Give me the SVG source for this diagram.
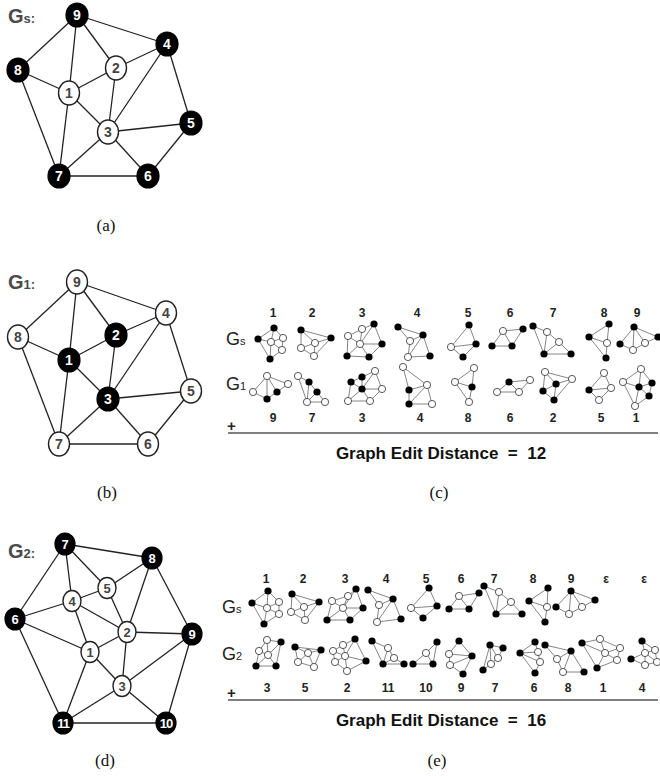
<svg xmlns="http://www.w3.org/2000/svg" width="660" height="777" viewBox="0 0 660 777">
<style>
  .edges line { stroke: #222; stroke-width: 1.3; }
  .blk ellipse { fill: #000; stroke: #000; stroke-width: 1.2; }
  .wht ellipse { fill: #fff; stroke: #222; stroke-width: 1.4; }
  .blk text, .wht text { font-family: "Liberation Sans", Arial, sans-serif; font-weight: bold; font-size: 14px; text-anchor: middle; }
  .blk text { fill: #fff; }
  .wht text { fill: #444; }
  .small text { font-size: 13px; }
  .tag { font-family: "Liberation Sans", Arial, sans-serif; font-weight: bold; fill: #4a4a4a; }
  .cap { font-family: "Liberation Serif", "Times New Roman", serif; font-size: 17px; fill: #111; text-anchor: middle; }
  .num { font-family: "Liberation Sans", Arial, sans-serif; font-weight: bold; font-size: 12px; fill: #222; text-anchor: middle; }
  .row { font-family: "Liberation Sans", Arial, sans-serif; fill: #222; }
  .ged { font-family: "Liberation Sans", Arial, sans-serif; font-weight: bold; font-size: 17px; fill: #111; text-anchor: middle; }
  .rule { stroke: #555; stroke-width: 1.5; }
  .m { stroke: #666; stroke-width: 0.8; fill: none; }
  .mb { fill: #000; }
  .mw { fill: #fff; stroke: #444; stroke-width: 0.9; }
</style>

<!-- ===== (a) graph Gs ===== -->
<g id="graph-a">
  <text class="tag" x="8" y="23" font-size="20">G<tspan font-size="13">s:</tspan></text>
  <g class="edges" id="a-edges">
    <line x1="77" y1="15" x2="18" y2="70"/>
    <line x1="77" y1="15" x2="69" y2="93"/>
    <line x1="77" y1="15" x2="116" y2="68"/>
    <line x1="77" y1="15" x2="167" y2="44"/>
    <line x1="18" y1="70" x2="69" y2="93"/>
    <line x1="18" y1="70" x2="59" y2="176"/>
    <line x1="69" y1="93" x2="116" y2="68"/>
    <line x1="69" y1="93" x2="59" y2="176"/>
    <line x1="69" y1="93" x2="108" y2="132"/>
    <line x1="116" y1="68" x2="167" y2="44"/>
    <line x1="116" y1="68" x2="108" y2="132"/>
    <line x1="167" y1="44" x2="108" y2="132"/>
    <line x1="167" y1="44" x2="191" y2="123"/>
    <line x1="108" y1="132" x2="191" y2="123"/>
    <line x1="108" y1="132" x2="148" y2="176"/>
    <line x1="108" y1="132" x2="59" y2="176"/>
    <line x1="191" y1="123" x2="148" y2="176"/>
    <line x1="59" y1="176" x2="148" y2="176"/>
  </g>
  <g id="a-n9" class="blk"><ellipse cx="77" cy="15" rx="11" ry="12"/><text x="77" y="20">9</text></g>
  <g id="a-n4" class="blk"><ellipse cx="167" cy="44" rx="11" ry="12"/><text x="167" y="49">4</text></g>
  <g id="a-n8" class="blk"><ellipse cx="18" cy="70" rx="11" ry="12"/><text x="18" y="75">8</text></g>
  <g id="a-n2" class="wht"><ellipse cx="116" cy="68" rx="10.5" ry="12"/><text x="116" y="73">2</text></g>
  <g id="a-n1" class="wht"><ellipse cx="69" cy="93" rx="10.5" ry="12"/><text x="69" y="98">1</text></g>
  <g id="a-n3" class="wht"><ellipse cx="108" cy="132" rx="10.5" ry="12"/><text x="108" y="137">3</text></g>
  <g id="a-n5" class="blk"><ellipse cx="191" cy="123" rx="11" ry="12"/><text x="191" y="128">5</text></g>
  <g id="a-n7" class="blk"><ellipse cx="59" cy="176" rx="11" ry="12"/><text x="59" y="181">7</text></g>
  <g id="a-n6" class="blk"><ellipse cx="148" cy="176" rx="11" ry="12"/><text x="148" y="181">6</text></g>
  <text class="cap" x="106" y="231">(a)</text>
</g>

<!-- ===== (b) graph G1 ===== -->
<g id="graph-b">
  <text class="tag" x="8" y="289" font-size="20">G<tspan font-size="13">1:</tspan></text>
  <g class="edges" id="b-edges">
    <line x1="77" y1="282" x2="18" y2="337"/>
    <line x1="77" y1="282" x2="69" y2="360"/>
    <line x1="77" y1="282" x2="116" y2="335"/>
    <line x1="77" y1="282" x2="166" y2="313"/>
    <line x1="18" y1="337" x2="69" y2="360"/>
    <line x1="18" y1="337" x2="59" y2="444"/>
    <line x1="69" y1="360" x2="116" y2="335"/>
    <line x1="69" y1="360" x2="59" y2="444"/>
    <line x1="69" y1="360" x2="108" y2="399"/>
    <line x1="116" y1="335" x2="166" y2="313"/>
    <line x1="116" y1="335" x2="108" y2="399"/>
    <line x1="166" y1="313" x2="108" y2="399"/>
    <line x1="166" y1="313" x2="191" y2="391"/>
    <line x1="108" y1="399" x2="191" y2="391"/>
    <line x1="108" y1="399" x2="148" y2="444"/>
    <line x1="108" y1="399" x2="59" y2="444"/>
    <line x1="191" y1="391" x2="148" y2="444"/>
    <line x1="59" y1="444" x2="148" y2="444"/>
  </g>
  <g id="b-n9" class="wht"><ellipse cx="77" cy="282" rx="10.5" ry="12"/><text x="77" y="287">9</text></g>
  <g id="b-n4" class="wht"><ellipse cx="166" cy="313" rx="10.5" ry="12"/><text x="166" y="318">4</text></g>
  <g id="b-n8" class="wht"><ellipse cx="18" cy="337" rx="10.5" ry="12"/><text x="18" y="342">8</text></g>
  <g id="b-n2" class="blk"><ellipse cx="116" cy="335" rx="11" ry="12"/><text x="116" y="340">2</text></g>
  <g id="b-n1" class="blk"><ellipse cx="69" cy="360" rx="11" ry="12"/><text x="69" y="365">1</text></g>
  <g id="b-n3" class="blk"><ellipse cx="108" cy="399" rx="11" ry="12"/><text x="108" y="404">3</text></g>
  <g id="b-n5" class="wht"><ellipse cx="191" cy="391" rx="10.5" ry="12"/><text x="191" y="396">5</text></g>
  <g id="b-n7" class="wht"><ellipse cx="59" cy="444" rx="10.5" ry="12"/><text x="59" y="449">7</text></g>
  <g id="b-n6" class="wht"><ellipse cx="148" cy="444" rx="10.5" ry="12"/><text x="148" y="449">6</text></g>
  <text class="cap" x="107" y="498">(b)</text>
</g>

<!-- ===== (d) graph G2 ===== -->
<g id="graph-d">
  <text class="tag" x="8" y="558" font-size="20">G<tspan font-size="13">2:</tspan></text>
  <g class="edges" id="d-edges">
    <line x1="65" y1="544" x2="152" y2="558"/>
    <line x1="65" y1="544" x2="15" y2="619"/>
    <line x1="65" y1="544" x2="72" y2="601"/>
    <line x1="65" y1="544" x2="107" y2="588"/>
    <line x1="152" y1="558" x2="107" y2="588"/>
    <line x1="152" y1="558" x2="127" y2="632"/>
    <line x1="152" y1="558" x2="192" y2="634"/>
    <line x1="107" y1="588" x2="72" y2="601"/>
    <line x1="107" y1="588" x2="127" y2="632"/>
    <line x1="72" y1="601" x2="15" y2="619"/>
    <line x1="72" y1="601" x2="127" y2="632"/>
    <line x1="72" y1="601" x2="90" y2="652"/>
    <line x1="15" y1="619" x2="90" y2="652"/>
    <line x1="15" y1="619" x2="63" y2="723"/>
    <line x1="127" y1="632" x2="192" y2="634"/>
    <line x1="127" y1="632" x2="90" y2="652"/>
    <line x1="127" y1="632" x2="122" y2="686"/>
    <line x1="90" y1="652" x2="122" y2="686"/>
    <line x1="90" y1="652" x2="63" y2="723"/>
    <line x1="192" y1="634" x2="122" y2="686"/>
    <line x1="192" y1="634" x2="166" y2="723"/>
    <line x1="122" y1="686" x2="63" y2="723"/>
    <line x1="122" y1="686" x2="166" y2="723"/>
    <line x1="63" y1="723" x2="166" y2="723"/>
  </g>
  <g class="small">
    <g id="d-n7" class="blk"><ellipse cx="65" cy="544" rx="10" ry="11"/><text x="65" y="549">7</text></g>
    <g id="d-n8" class="blk"><ellipse cx="152" cy="558" rx="10" ry="11"/><text x="152" y="563">8</text></g>
    <g id="d-n5" class="wht"><ellipse cx="107" cy="588" rx="9" ry="10.5"/><text x="107" y="593">5</text></g>
    <g id="d-n4" class="wht"><ellipse cx="72" cy="601" rx="9" ry="10.5"/><text x="72" y="606">4</text></g>
    <g id="d-n6" class="blk"><ellipse cx="15" cy="619" rx="10" ry="11"/><text x="15" y="624">6</text></g>
    <g id="d-n2" class="wht"><ellipse cx="127" cy="632" rx="9" ry="10.5"/><text x="127" y="637">2</text></g>
    <g id="d-n9" class="blk"><ellipse cx="192" cy="634" rx="10" ry="11"/><text x="192" y="639">9</text></g>
    <g id="d-n1" class="wht"><ellipse cx="90" cy="652" rx="9" ry="10.5"/><text x="90" y="657">1</text></g>
    <g id="d-n3" class="wht"><ellipse cx="122" cy="686" rx="9" ry="10.5"/><text x="122" y="691">3</text></g>
    <g id="d-n11" class="blk"><ellipse cx="63" cy="723" rx="10" ry="11"/><text x="63" y="728" letter-spacing="-1">11</text></g>
    <g id="d-n10" class="blk"><ellipse cx="166" cy="723" rx="10" ry="11"/><text x="166" y="728" letter-spacing="-1">10</text></g>
  </g>
  <text class="cap" x="105" y="766">(d)</text>
</g>

<!-- ===== (c) substructure matching Gs vs G1 ===== -->
<g id="panel-c">
  <text class="row" x="226" y="345" font-size="18">G<tspan font-size="11">s</tspan></text>
  <text class="row" x="226" y="390" font-size="18">G<tspan font-size="11">1</tspan></text>
  <g id="c-top-ids">
    <text class="num" x="273" y="317">1</text><text class="num" x="312" y="317">2</text>
    <text class="num" x="362" y="317">3</text><text class="num" x="417" y="317">4</text>
    <text class="num" x="468" y="317">5</text><text class="num" x="510" y="317">6</text>
    <text class="num" x="553" y="317">7</text><text class="num" x="604" y="317">8</text>
    <text class="num" x="637" y="317">9</text>
  </g>
  <g id="c-bottom-ids">
    <text class="num" x="273" y="422">9</text><text class="num" x="312" y="422">7</text>
    <text class="num" x="362" y="422">3</text><text class="num" x="420" y="422">4</text>
    <text class="num" x="468" y="422">8</text><text class="num" x="510" y="422">6</text>
    <text class="num" x="553" y="422">2</text><text class="num" x="601" y="422">5</text>
    <text class="num" x="636" y="422">1</text>
  </g>

  <g id="c-s1"><path class="m" d="M274 328L258 339M274 328L271 342M274 328L283 338M258 339L271 342M258 339L270 359M271 342L283 338M271 342L270 359M271 342L282 350M283 338L282 350M282 350L270 359"/>
    <circle class="mb" cx="274" cy="328" r="3.6"/><circle class="mb" cx="258" cy="339" r="3.6"/><circle class="mw" cx="271" cy="342" r="3.6"/><circle class="mw" cx="283" cy="338" r="3.6"/><circle class="mw" cx="282" cy="350" r="3.6"/><circle class="mb" cx="270" cy="359" r="3.6"/></g>
  <g id="c-s2"><path class="m" d="M301 330L315 343M301 330L301 348M301 330L331 338M301 348L315 343M301 348L314 356M315 343L331 338M315 343L314 356M331 338L314 356"/>
    <circle class="mb" cx="301" cy="330" r="3.6"/><circle class="mb" cx="331" cy="338" r="3.6"/><circle class="mw" cx="315" cy="343" r="3.6"/><circle class="mw" cx="301" cy="348" r="3.6"/><circle class="mw" cx="314" cy="356" r="3.6"/></g>
  <g id="c-s3"><path class="m" d="M360 344L348 336M360 344L362 329M360 344L374 324M360 344L382 344M360 344L369 357M360 344L347 356M348 336L362 329M348 336L347 356M362 329L374 324M374 324L382 344M382 344L369 357M347 356L369 357"/>
    <circle class="mw" cx="360" cy="344" r="3.6"/><circle class="mw" cx="348" cy="336" r="3.6"/><circle class="mw" cx="362" cy="329" r="3.6"/><circle class="mb" cx="374" cy="324" r="3.6"/><circle class="mb" cx="382" cy="344" r="3.6"/><circle class="mb" cx="369" cy="357" r="3.6"/><circle class="mb" cx="347" cy="356" r="3.6"/></g>
  <g id="c-s4"><path class="m" d="M398 327L423 335M398 327L410 341M410 341L423 335M410 341L408 357M423 335L408 357M423 335L430 356M408 357L430 356"/>
    <circle class="mb" cx="398" cy="327" r="3.6"/><circle class="mb" cx="423" cy="335" r="3.6"/><circle class="mw" cx="410" cy="341" r="3.6"/><circle class="mw" cx="408" cy="357" r="3.6"/><circle class="mb" cx="430" cy="356" r="3.6"/></g>
  <g id="c-s5"><path class="m" d="M469 325L476 344M469 325L451 347M451 347L476 344M451 347L463 357M476 344L463 357"/>
    <circle class="mb" cx="469" cy="325" r="3.6"/><circle class="mw" cx="451" cy="347" r="3.6"/><circle class="mb" cx="476" cy="344" r="3.6"/><circle class="mb" cx="463" cy="357" r="3.6"/></g>
  <g id="c-s6"><path class="m" d="M503 331L512 346M503 331L523 329M503 331L492 346M523 329L512 346M492 346L512 346"/>
    <circle class="mw" cx="503" cy="331" r="3.6"/><circle class="mb" cx="523" cy="329" r="3.6"/><circle class="mb" cx="492" cy="346" r="3.6"/><circle class="mb" cx="512" cy="346" r="3.6"/></g>
  <g id="c-s7"><path class="m" d="M533 326L544 354M533 326L547 332M547 332L544 354M547 332L559 342M559 342L544 354M559 342L571 354M544 354L571 354"/>
    <circle class="mb" cx="533" cy="326" r="3.6"/><circle class="mw" cx="547" cy="332" r="3.6"/><circle class="mw" cx="559" cy="342" r="3.6"/><circle class="mb" cx="544" cy="354" r="3.6"/><circle class="mb" cx="571" cy="354" r="3.6"/></g>
  <g id="c-s8"><path class="m" d="M609 324L589 337M609 324L607 343M589 337L607 343M589 337L606 358M607 343L606 358"/>
    <circle class="mb" cx="609" cy="324" r="3.6"/><circle class="mb" cx="589" cy="337" r="3.6"/><circle class="mw" cx="607" cy="343" r="3.6"/><circle class="mb" cx="606" cy="358" r="3.6"/></g>
  <g id="c-s9"><path class="m" d="M634 327L620 344M634 327L633 350M634 327L645 343M634 327L658 337M620 344L633 350M633 350L645 343M645 343L658 337"/>
    <circle class="mb" cx="634" cy="327" r="3.6"/><circle class="mb" cx="620" cy="344" r="3.6"/><circle class="mw" cx="633" cy="350" r="3.6"/><circle class="mw" cx="645" cy="343" r="3.6"/><circle class="mb" cx="658" cy="337" r="3.6"/></g>

  <g id="c-g9"><path class="m" d="M267 376L253 392M267 376L267 399M267 376L277 392M267 376L288 384M253 392L267 399M267 399L277 392M277 392L288 384"/>
    <circle class="mw" cx="267" cy="376" r="3.6"/><circle class="mw" cx="288" cy="384" r="3.6"/><circle class="mw" cx="253" cy="392" r="3.6"/><circle class="mb" cx="277" cy="392" r="3.6"/><circle class="mb" cx="267" cy="399" r="3.6"/></g>
  <g id="c-g7"><path class="m" d="M298 376L307 402M298 376L309 382M309 382L307 402M309 382L317 392M317 392L307 402M317 392L325 402M307 402L325 402"/>
    <circle class="mw" cx="298" cy="376" r="3.6"/><circle class="mb" cx="309" cy="382" r="3.6"/><circle class="mb" cx="317" cy="392" r="3.6"/><circle class="mw" cx="307" cy="402" r="3.6"/><circle class="mw" cx="325" cy="402" r="3.6"/></g>
  <g id="c-g3"><path class="m" d="M362 389L351 382M362 389L362 377M362 389L375 371M362 389L382 389M362 389L370 401M362 389L348 401M351 382L362 377M351 382L348 401M362 377L375 371M375 371L382 389M382 389L370 401M348 401L370 401"/>
    <circle class="mw" cx="375" cy="371" r="3.6"/><circle class="mb" cx="362" cy="377" r="3.6"/><circle class="mb" cx="351" cy="382" r="3.6"/><circle class="mb" cx="362" cy="389" r="3.6"/><circle class="mw" cx="382" cy="389" r="3.6"/><circle class="mw" cx="348" cy="401" r="3.6"/><circle class="mw" cx="370" cy="401" r="3.6"/></g>
  <g id="c-g4"><path class="m" d="M403 367L427 385M403 367L409 390M409 390L427 385M409 390L409 404M427 385L409 404M427 385L432 404M409 404L432 404"/>
    <circle class="mw" cx="403" cy="367" r="3.6"/><circle class="mb" cx="409" cy="390" r="3.6"/><circle class="mw" cx="427" cy="385" r="3.6"/><circle class="mb" cx="409" cy="404" r="3.6"/><circle class="mw" cx="432" cy="404" r="3.6"/></g>
  <g id="c-g8"><path class="m" d="M474 368L455 382M474 368L472 387M455 382L472 387M455 382L469 402M472 387L469 402"/>
    <circle class="mw" cx="474" cy="368" r="3.6"/><circle class="mw" cx="455" cy="382" r="3.6"/><circle class="mb" cx="472" cy="387" r="3.6"/><circle class="mw" cx="469" cy="402" r="3.6"/></g>
  <g id="c-g6"><path class="m" d="M509 382L519 392M509 382L530 380M509 382L497 392M530 380L519 392M497 392L519 392"/>
    <circle class="mb" cx="509" cy="382" r="3.6"/><circle class="mw" cx="530" cy="380" r="3.6"/><circle class="mw" cx="497" cy="392" r="3.6"/><circle class="mw" cx="519" cy="392" r="3.6"/></g>
  <g id="c-g2"><path class="m" d="M545 372L556 384M545 372L543 391M545 372L572 379M543 391L556 384M543 391L554 400M556 384L572 379M556 384L554 400M572 379L554 400"/>
    <circle class="mw" cx="545" cy="372" r="3.6"/><circle class="mw" cx="572" cy="379" r="3.6"/><circle class="mb" cx="556" cy="384" r="3.6"/><circle class="mb" cx="543" cy="391" r="3.6"/><circle class="mb" cx="554" cy="400" r="3.6"/></g>
  <g id="c-g5"><path class="m" d="M604 373L611 388M604 373L589 390M589 390L611 388M589 390L599 400M611 388L599 400"/>
    <circle class="mw" cx="604" cy="373" r="3.6"/><circle class="mb" cx="589" cy="390" r="3.6"/><circle class="mw" cx="611" cy="388" r="3.6"/><circle class="mw" cx="599" cy="400" r="3.6"/></g>
  <g id="c-g1"><path class="m" d="M641 369L623 382M641 369L639 387M641 369L652 383M623 382L639 387M623 382L635 406M639 387L652 383M639 387L635 406M639 387L649 396M652 383L649 396M649 396L635 406"/>
    <circle class="mw" cx="641" cy="369" r="3.6"/><circle class="mw" cx="623" cy="382" r="3.6"/><circle class="mb" cx="652" cy="383" r="3.6"/><circle class="mb" cx="639" cy="387" r="3.6"/><circle class="mb" cx="649" cy="396" r="3.6"/><circle class="mw" cx="635" cy="406" r="3.6"/></g>

  <text class="row" x="227" y="431" font-size="15" font-weight="bold">+</text>
  <line class="rule" x1="228" y1="433" x2="658" y2="433"/>
  <text class="ged" x="441" y="459">Graph Edit Distance&#160; =&#160; 12</text>
  <text class="cap" x="439" y="498">(c)</text>
</g>

<!-- ===== (e) substructure matching Gs vs G2 ===== -->
<g id="panel-e">
  <text class="row" x="222" y="613" font-size="18">G<tspan font-size="11">s</tspan></text>
  <text class="row" x="222" y="660" font-size="18">G<tspan font-size="11">2</tspan></text>
  <g id="e-top-ids">
    <text class="num" x="266" y="583">1</text><text class="num" x="303" y="583">2</text>
    <text class="num" x="345" y="583">3</text><text class="num" x="386" y="583">4</text>
    <text class="num" x="426" y="583">5</text><text class="num" x="461" y="583">6</text>
    <text class="num" x="494" y="583">7</text><text class="num" x="533" y="583">8</text>
    <text class="num" x="571" y="583">9</text><text class="num" x="606" y="583">ε</text>
    <text class="num" x="644" y="583">ε</text>
  </g>
  <g id="e-bottom-ids">
    <text class="num" x="267" y="692">3</text><text class="num" x="305" y="692">5</text>
    <text class="num" x="347" y="692">2</text><text class="num" x="388" y="692">11</text>
    <text class="num" x="426" y="692">10</text><text class="num" x="461" y="692">9</text>
    <text class="num" x="495" y="692">7</text><text class="num" x="534" y="692">6</text>
    <text class="num" x="568" y="692">8</text><text class="num" x="603" y="692">1</text>
    <text class="num" x="642" y="692">4</text>
  </g>

  <g id="e-s1"><path class="m" d="M268 591L252 603M268 591L267 608M268 591L279 602M252 603L267 608M252 603L264 624M267 608L279 602M267 608L264 624M267 608L279 614M279 602L279 614M279 614L264 624"/>
    <circle class="mb" cx="268" cy="591" r="3.6"/><circle class="mb" cx="252" cy="603" r="3.6"/><circle class="mw" cx="267" cy="608" r="3.6"/><circle class="mw" cx="279" cy="602" r="3.6"/><circle class="mw" cx="279" cy="614" r="3.6"/><circle class="mb" cx="264" cy="624" r="3.6"/></g>
  <g id="e-s2"><path class="m" d="M292 594L304 607M292 594L291 612M292 594L319 602M291 612L304 607M291 612L305 620M304 607L319 602M304 607L305 620M319 602L305 620"/>
    <circle class="mb" cx="292" cy="594" r="3.6"/><circle class="mb" cx="319" cy="602" r="3.6"/><circle class="mw" cx="304" cy="607" r="3.6"/><circle class="mw" cx="291" cy="612" r="3.6"/><circle class="mw" cx="305" cy="620" r="3.6"/></g>
  <g id="e-s3"><path class="m" d="M343 608L332 601M343 608L348 596M343 608L356 589M343 608L363 608M343 608L350 620M343 608L327 620M332 601L348 596M332 601L327 620M348 596L356 589M356 589L363 608M363 608L350 620M327 620L350 620"/>
    <circle class="mb" cx="356" cy="589" r="3.6"/><circle class="mw" cx="348" cy="596" r="3.6"/><circle class="mw" cx="332" cy="601" r="3.6"/><circle class="mw" cx="343" cy="608" r="3.6"/><circle class="mb" cx="363" cy="608" r="3.6"/><circle class="mb" cx="327" cy="620" r="3.6"/><circle class="mb" cx="350" cy="620" r="3.6"/></g>
  <g id="e-s4"><path class="m" d="M368 590L393 599M368 590L379 605M379 605L393 599M379 605L377 622M393 599L377 622M393 599L401 619M377 622L401 619"/>
    <circle class="mb" cx="368" cy="590" r="3.6"/><circle class="mb" cx="393" cy="599" r="3.6"/><circle class="mw" cx="379" cy="605" r="3.6"/><circle class="mw" cx="377" cy="622" r="3.6"/><circle class="mb" cx="401" cy="619" r="3.6"/></g>
  <g id="e-s5"><path class="m" d="M429 588L437 606M429 588L411 608M411 608L437 606M411 608L423 618M437 606L423 618"/>
    <circle class="mb" cx="429" cy="588" r="3.6"/><circle class="mw" cx="411" cy="608" r="3.6"/><circle class="mb" cx="437" cy="606" r="3.6"/><circle class="mb" cx="423" cy="618" r="3.6"/></g>
  <g id="e-s6"><path class="m" d="M459 596L469 609M459 596L479 593M459 596L449 609M479 593L469 609M449 609L469 609"/>
    <circle class="mw" cx="459" cy="596" r="3.6"/><circle class="mb" cx="479" cy="593" r="3.6"/><circle class="mb" cx="449" cy="609" r="3.6"/><circle class="mb" cx="469" cy="609" r="3.6"/></g>
  <g id="e-s7"><path class="m" d="M484 586L496 614M484 586L499 592M499 592L496 614M499 592L511 602M511 602L496 614M511 602L522 614M496 614L522 614"/>
    <circle class="mb" cx="484" cy="586" r="3.6"/><circle class="mw" cx="499" cy="592" r="3.6"/><circle class="mw" cx="511" cy="602" r="3.6"/><circle class="mb" cx="496" cy="614" r="3.6"/><circle class="mb" cx="522" cy="614" r="3.6"/></g>
  <g id="e-s8"><path class="m" d="M548 588L529 601M548 588L547 607M529 601L547 607M529 601L545 622M547 607L545 622"/>
    <circle class="mb" cx="548" cy="588" r="3.6"/><circle class="mb" cx="529" cy="601" r="3.6"/><circle class="mw" cx="547" cy="607" r="3.6"/><circle class="mb" cx="545" cy="622" r="3.6"/></g>
  <g id="e-s9"><path class="m" d="M571 591L556 607M571 591L569 614M571 591L582 607M571 591L595 600M556 607L569 614M569 614L582 607M582 607L595 600"/>
    <circle class="mb" cx="571" cy="591" r="3.6"/><circle class="mb" cx="595" cy="600" r="3.6"/><circle class="mw" cx="582" cy="607" r="3.6"/><circle class="mw" cx="569" cy="614" r="3.6"/><circle class="mb" cx="556" cy="607" r="3.6"/></g>

  <g id="e-g3"><path class="m" d="M267 640L281 642M267 640L259 651M267 640L268 655M259 651L268 655M259 651L256 666M281 642L268 655M281 642L276 666M268 655L256 666M268 655L276 666M256 666L276 666"/>
    <circle class="mw" cx="267" cy="640" r="3.6"/><circle class="mb" cx="281" cy="642" r="3.6"/><circle class="mw" cx="259" cy="651" r="3.6"/><circle class="mw" cx="268" cy="655" r="3.6"/><circle class="mb" cx="256" cy="666" r="3.6"/><circle class="mb" cx="276" cy="666" r="3.6"/></g>
  <g id="e-g5"><path class="m" d="M295 647L321 650M295 647L298 662M295 647L308 653M321 650L308 653M321 650L314 667M308 653L298 662M308 653L314 667M298 662L314 667"/>
    <circle class="mb" cx="295" cy="647" r="3.6"/><circle class="mb" cx="321" cy="650" r="3.6"/><circle class="mw" cx="308" cy="653" r="3.6"/><circle class="mw" cx="298" cy="662" r="3.6"/><circle class="mw" cx="314" cy="667" r="3.6"/></g>
  <g id="e-g2"><path class="m" d="M355 639L343 645M355 639L345 656M355 639L366 661M343 645L333 651M343 645L345 656M333 651L345 656M333 651L335 662M345 656L366 661M345 656L335 662M345 656L347 671M335 662L347 671M366 661L347 671"/>
    <circle class="mb" cx="355" cy="639" r="3.6"/><circle class="mb" cx="366" cy="661" r="3.6"/><circle class="mw" cx="343" cy="645" r="3.6"/><circle class="mw" cx="333" cy="651" r="3.6"/><circle class="mw" cx="345" cy="656" r="3.6"/><circle class="mw" cx="335" cy="662" r="3.6"/><circle class="mw" cx="347" cy="671" r="3.6"/></g>
  <g id="e-g11"><path class="m" d="M372 641L388 648M372 641L383 664M388 648L394 658M388 648L383 664M394 658L383 664M394 658L404 664M383 664L404 664"/>
    <circle class="mb" cx="372" cy="641" r="3.6"/><circle class="mw" cx="388" cy="648" r="3.6"/><circle class="mw" cx="394" cy="658" r="3.6"/><circle class="mb" cx="383" cy="664" r="3.6"/><circle class="mb" cx="404" cy="664" r="3.6"/></g>
  <g id="e-g10"><path class="m" d="M437 642L426 653M437 642L433 664M426 653L413 664M426 653L433 664M413 664L433 664"/>
    <circle class="mb" cx="437" cy="642" r="3.6"/><circle class="mw" cx="426" cy="653" r="3.6"/><circle class="mb" cx="413" cy="664" r="3.6"/><circle class="mb" cx="433" cy="664" r="3.6"/></g>
  <g id="e-g9"><path class="m" d="M459 641L449 654M459 641L472 656M449 654L472 656M449 654L450 665M472 656L450 665M472 656L463 674M450 665L463 674"/>
    <circle class="mb" cx="459" cy="641" r="3.6"/><circle class="mw" cx="449" cy="654" r="3.6"/><circle class="mb" cx="472" cy="656" r="3.6"/><circle class="mw" cx="450" cy="665" r="3.6"/><circle class="mb" cx="463" cy="674" r="3.6"/></g>
  <g id="e-g7"><path class="m" d="M490 645L503 648M490 645L483 670M490 645L491 664M490 645L498 658M503 648L498 658M498 658L491 664M491 664L483 670"/>
    <circle class="mb" cx="490" cy="645" r="3.6"/><circle class="mb" cx="503" cy="648" r="3.6"/><circle class="mw" cx="498" cy="658" r="3.6"/><circle class="mw" cx="491" cy="664" r="3.6"/><circle class="mb" cx="483" cy="670" r="3.6"/></g>
  <g id="e-g6"><path class="m" d="M535 642L520 653M535 642L538 652M538 652L520 653M538 652L540 662M520 653L540 662M520 653L535 673M540 662L535 673"/>
    <circle class="mb" cx="535" cy="642" r="3.6"/><circle class="mw" cx="538" cy="652" r="3.6"/><circle class="mb" cx="520" cy="653" r="3.6"/><circle class="mw" cx="540" cy="662" r="3.6"/><circle class="mb" cx="535" cy="673" r="3.6"/></g>
  <g id="e-g8"><path class="m" d="M545 645L571 651M545 645L557 659M571 651L557 659M571 651L563 672M571 651L584 672M557 659L563 672M563 672L584 672"/>
    <circle class="mb" cx="545" cy="645" r="3.6"/><circle class="mb" cx="571" cy="651" r="3.6"/><circle class="mw" cx="557" cy="659" r="3.6"/><circle class="mw" cx="563" cy="672" r="3.6"/><circle class="mb" cx="584" cy="672" r="3.6"/></g>
  <g id="e-g1"><path class="m" d="M600 639L582 643M600 639L620 648M600 639L605 653M582 643L605 653M582 643L597 668M620 648L605 653M620 648L617 660M605 653L617 660M605 653L597 668M617 660L597 668"/>
    <circle class="mb" cx="582" cy="643" r="3.6"/><circle class="mw" cx="600" cy="639" r="3.6"/><circle class="mw" cx="620" cy="648" r="3.6"/><circle class="mw" cx="605" cy="653" r="3.6"/><circle class="mw" cx="617" cy="660" r="3.6"/><circle class="mb" cx="597" cy="668" r="3.6"/></g>
  <g id="e-g4"><path class="m" d="M642 641L645 653M642 641L655 650M655 650L645 653M655 650L657 662M645 653L631 659M645 653L657 662M645 653L645 665M631 659L645 665M657 662L645 665"/>
    <circle class="mb" cx="642" cy="641" r="3.6"/><circle class="mw" cx="645" cy="653" r="3.6"/><circle class="mw" cx="655" cy="650" r="3.6"/><circle class="mb" cx="631" cy="659" r="3.6"/><circle class="mw" cx="645" cy="665" r="3.6"/><circle class="mw" cx="657" cy="662" r="3.6"/></g>

  <text class="row" x="227" y="698" font-size="15" font-weight="bold">+</text>
  <line class="rule" x1="228" y1="700" x2="658" y2="700"/>
  <text class="ged" x="441" y="726">Graph Edit Distance&#160; =&#160; 16</text>
  <text class="cap" x="437" y="766">(e)</text>
</g>
</svg>
